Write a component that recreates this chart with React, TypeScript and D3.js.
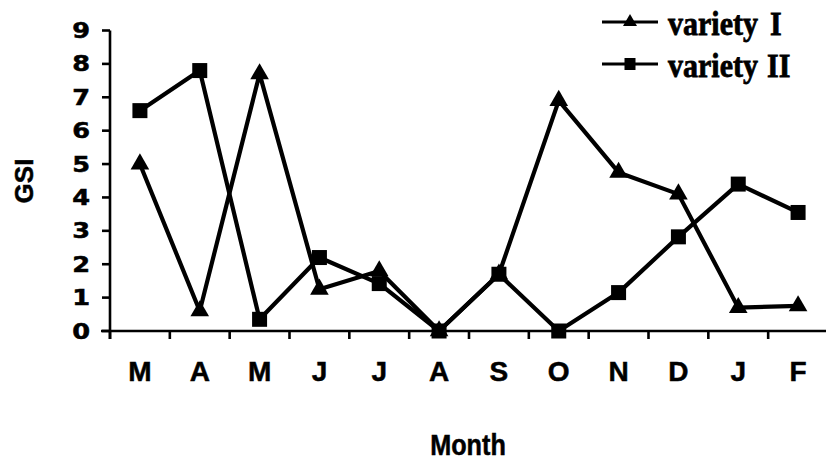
import React from "react";
import * as d3 from "d3";

const months = ["M", "A", "M", "J", "J", "A", "S", "O", "N", "D", "J", "F"];
const variety1 = [5.0, 0.6, 7.7, 1.25, 1.8, 0, 1.7, 6.9, 4.75, 4.1, 0.7, 0.75];
const variety2 = [6.6, 7.8, 0.35, 2.2, 1.42, 0, 1.7, 0, 1.15, 2.82, 4.4, 3.55];
const yTicks = [0, 1, 2, 3, 4, 5, 6, 7, 8, 9];
const seriesNames = ["variety", "variety"];
const numerals = ["I", "II"];

const W = 826;
const H = 460;

export default function App() {
  const idx = months.map((_, i) => i);
  const x = d3.scaleBand<number>().domain(idx).range([110, 828]).padding(0);
  const y = d3.scaleLinear().domain([0, 9]).range([331, 30.5]);
  const cx = (i: number) => (x(i) as number) + x.bandwidth() / 2;

  const line = d3
    .line<number>()
    .x((_, i) => cx(i))
    .y((d) => y(d));

  const tri = d3.symbol().type(d3.symbolTriangle).size(150)() as string;
  const triSmall = d3.symbol().type(d3.symbolTriangle).size(85)() as string;
  const sq = 15;

  const boundaries = d3.range(months.length + 1).map((i) => 110 + x.step() * i);
  const sansFont = "'Liberation Sans', Arial, sans-serif";
  const serifFont = "'Liberation Serif', 'Times New Roman', serif";

  return (
    <svg
      width={W}
      height={H}
      style={{ position: "absolute", left: 0, top: 0, background: "#fff" }}
    >
      <rect width={W} height={H} fill="#fff" />
      {/* axes */}
      <line x1={110} x2={110} y1={y(9)} y2={y(0) + 8} stroke="#000" strokeWidth={2.6} />
      <line x1={101} x2={830} y1={y(0)} y2={y(0)} stroke="#000" strokeWidth={2.6} />
      {yTicks.map((t) => (
        <g key={t}>
          <line x1={102} x2={110} y1={y(t)} y2={y(t)} stroke="#000" strokeWidth={2.6} />
          <text
            transform={`translate(90,${y(t) + 7.5}) scale(1.25,1)`}
            textAnchor="end"
            fontFamily="'DejaVu Sans', sans-serif"
            fontWeight="bold"
            fontSize={20.5}
            fill="#000"
            stroke="#000"
            strokeWidth={0.5}
          >
            {t}
          </text>
        </g>
      ))}
      {boundaries.map((b, i) => (
        <line key={i} x1={b} x2={b} y1={y(0)} y2={y(0) + 8} stroke="#000" strokeWidth={2.6} />
      ))}
      {months.map((m, i) => (
        <text
          key={i}
          x={cx(i)}
          y={381}
          textAnchor="middle"
          fontFamily={sansFont}
          fontWeight="bold"
          fontSize={28}
          fill="#000"
          stroke="#000"
          strokeWidth={0.5}
        >
          {m}
        </text>
      ))}
      <text
        transform="translate(468,455) scale(0.87,1)"
        textAnchor="middle"
        fontFamily={sansFont}
        fontWeight="bold"
        fontSize={29}
        fill="#000"
        stroke="#000"
        strokeWidth={0.5}
      >
        Month
      </text>
      <text
        transform="translate(33,181) rotate(-90)"
        textAnchor="middle"
        fontFamily={sansFont}
        fontWeight="bold"
        fontSize={26}
        fill="#000"
        stroke="#000"
        strokeWidth={0.5}
      >
        GSI
      </text>

      {/* series */}
      <path d={line(variety1) as string} fill="none" stroke="#000" strokeWidth={4.2} strokeLinejoin="round" />
      <path d={line(variety2) as string} fill="none" stroke="#000" strokeWidth={4.2} strokeLinejoin="round" />
      {variety1.map((v, i) => (
        <path key={`t${i}`} d={tri} transform={`translate(${cx(i)},${y(v)})`} fill="#000" />
      ))}
      {variety2.map((v, i) => (
        <rect key={`s${i}`} x={cx(i) - sq / 2} y={y(v) - sq / 2} width={sq} height={sq} fill="#000" />
      ))}

      {/* legend */}
      {seriesNames.map((name, k) => {
        const ly = k === 0 ? 22 : 64;
        return (
          <g key={k}>
            <line x1={602} x2={658} y1={ly} y2={ly} stroke="#000" strokeWidth={3.2} />
            {k === 0 ? (
              <path d={triSmall} transform={`translate(630,${ly})`} fill="#000" />
            ) : (
              <rect x={624.5} y={ly - 6} width={11} height={12} fill="#000" />
            )}
            <text
              transform={`translate(668,${ly + 13}) scale(1,1.15)`}
              fontFamily={serifFont}
              fontWeight="bold"
              fontSize={30}
              fill="#000"
              stroke="#000"
              strokeWidth={0.7}
            >
              {name}
            </text>
            <text
              transform={`translate(${k === 0 ? 770 : 767},${ly + 13}) scale(1,1.15)`}
              fontFamily={serifFont}
              fontWeight="bold"
              fontSize={30}
              fill="#000"
              stroke="#000"
              strokeWidth={0.7}
            >
              {numerals[k]}
            </text>
          </g>
        );
      })}
    </svg>
  );
}
